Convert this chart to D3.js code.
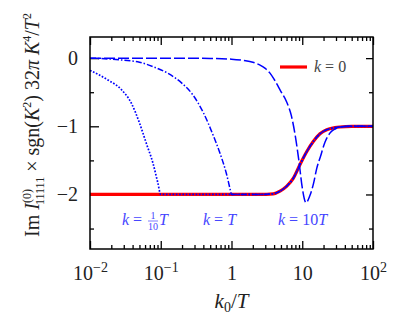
<!DOCTYPE html>
<html>
<head>
<meta charset="utf-8">
<script src="https://cdn.jsdelivr.net/npm/d3@7"></script>
<style>
  html, body { margin: 0; padding: 0; background: #fff; }
  svg { display: block; font-family: "Liberation Serif", "DejaVu Serif", serif; }
  .axis path { display: none; }
  .axis line { stroke: #000; stroke-width: 1.3; }
  .tick-label { font-size: 20px; fill: #222; font-family: "Liberation Serif", serif; }
</style>
</head>
<body>
<div id="chart"></div>
<script>
// values
// k = 0 (red, solid)
const k0Zero = [0.01, 1, 2.5, 3.9, 4.85, 6, 7.5, 9.3, 11.6, 14.4, 17.8, 22.2, 29, 34, 50, 100];
const imZero = [-2, -2, -2, -1.99, -1.95, -1.88, -1.76, -1.56, -1.37, -1.22, -1.11, -1.05, -1.02, -1.01, -1.0, -1.0];

// k = T/10 (dotted) before it joins the k = 0 curve
const k0Tenth = [0.01, 0.0179, 0.0277, 0.0384, 0.05, 0.0625, 0.0776, 0.091, 0.1];
const imTenth = [-0.18, -0.32, -0.46, -0.66, -0.95, -1.25, -1.54, -1.83, -2.0];

// k = T (dash-dot) before it joins the k = 0 curve
const k0One = [0.01, 0.03, 0.05, 0.08, 0.12, 0.16, 0.2, 0.28, 0.4, 0.55, 0.69, 0.85, 0.96, 1];
const imOne = [0, -0.03, -0.06, -0.13, -0.21, -0.29, -0.37, -0.53, -0.8, -1.13, -1.4, -1.7, -1.93, -2];

// k = 10T (long dash)
const k0Ten = [0.01, 0.1, 0.5, 1, 1.5, 2, 2.5, 3, 3.5, 4, 5, 6, 7, 8, 9, 10, 11.3, 13, 14.5, 16, 18, 21, 25, 29, 35, 45, 100];
const imTen = [0, 0, -0.005, -0.015, -0.035, -0.06, -0.1, -0.15, -0.22, -0.31, -0.49, -0.64, -0.84, -1.15, -1.52, -1.9, -2.12, -2.0, -1.83, -1.62, -1.45, -1.23, -1.09, -1.04, -1.01, -1.0, -1.0];

const xTicks = [0.01, 0.1, 1, 10, 100];
const xTickBase = ['10', '10', '1', '10', '10'];
const xTickExp = ['\u22122', '\u22121', '', '', '2'];
const yTicks = [0, -1, -2];
const yTickLabels = ['0', '\u22121', '\u22122'];
const yMinorTicks = [-0.5, -1.5, -2.5];

const width = 393, height = 322;
const margin = { top: 37, right: 20, bottom: 73, left: 90 };
const innerW = width - margin.left - margin.right;
const innerH = height - margin.top - margin.bottom;

const svg = d3.select('#chart').append('svg')
  .attr('width', width)
  .attr('height', height);

const chart = svg.append('g')
  .attr('transform', 'translate(' + margin.left + ',' + margin.top + ')');

const x = d3.scaleLog()
  .domain([0.01, 100])
  .range([0, innerW]);

const y = d3.scaleLinear()
  .domain([-2.8, 0.31])
  .range([innerH, 0]);

// minor log ticks 2..9 per decade
const xMinor = [];
for (let e = -2; e < 2; e++) {
  for (let m = 2; m <= 9; m++) xMinor.push(m * Math.pow(10, e));
}

// bottom axis (ticks point inwards)
const gx = chart.append('g')
  .attr('class', 'axis')
  .attr('transform', 'translate(0,' + innerH + ')')
  .call(d3.axisBottom(x).tickValues(xTicks).tickSize(-8).tickPadding(17).tickFormat(() => ''))
  .attr('font-family', null)
  .attr('font-size', null);

gx.selectAll('.tick text')
  .attr('class', 'tick-label')
  .each(function(d, i) {
    const t = d3.select(this);
    t.append('tspan').text(xTickBase[i]);
    if (xTickExp[i]) {
      t.append('tspan')
        .attr('font-size', 14)
        .attr('dy', -8)
        .text(xTickExp[i]);
    }
  });

chart.append('g')
  .attr('class', 'axis')
  .attr('transform', 'translate(0,' + innerH + ')')
  .call(d3.axisBottom(x).tickValues(xMinor).tickSize(-4).tickFormat(() => ''));

// top axis
chart.append('g')
  .attr('class', 'axis')
  .call(d3.axisTop(x).tickValues(xTicks).tickSize(-8).tickFormat(() => ''));
chart.append('g')
  .attr('class', 'axis')
  .call(d3.axisTop(x).tickValues(xMinor).tickSize(-4).tickFormat(() => ''));

// left axis
const gy = chart.append('g')
  .attr('class', 'axis')
  .call(d3.axisLeft(y).tickValues(yTicks).tickSize(-9).tickPadding(12).tickFormat((d, i) => yTickLabels[i]))
  .attr('font-family', null)
  .attr('font-size', null);
gy.selectAll('.tick text')
  .attr('class', 'tick-label');
chart.append('g')
  .attr('class', 'axis')
  .call(d3.axisLeft(y).tickValues(yMinorTicks).tickSize(-4).tickFormat(() => ''));

// right axis
chart.append('g')
  .attr('class', 'axis')
  .attr('transform', 'translate(' + innerW + ',0)')
  .call(d3.axisRight(y).tickValues(yTicks).tickSize(-7).tickFormat(() => ''));
chart.append('g')
  .attr('class', 'axis')
  .attr('transform', 'translate(' + innerW + ',0)')
  .call(d3.axisRight(y).tickValues(yMinorTicks).tickSize(-4).tickFormat(() => ''));

// curves
const zip = (a, b) => a.map((v, i) => [v, b[i]]);
const zero = zip(k0Zero, imZero);
const tenth = zip(k0Tenth, imTenth).concat(zero.filter(d => d[0] > 0.1));
const one = zip(k0One, imOne).concat(zero.filter(d => d[0] > 1));
const ten = zip(k0Ten, imTen);

const line = d3.line()
  .x(d => x(d[0]))
  .y(d => y(d[1]))
  .curve(d3.curveMonotoneX);

const series = [
  { pts: zero, color: '#ff0000', w: 3.2, dash: null },
  { pts: ten, color: '#0000ff', w: 1.5, dash: '11,3' },
  { pts: one, color: '#0000ff', w: 1.5, dash: '6,2,1.5,2' },
  { pts: tenth, color: '#0000ff', w: 1.7, dash: '1.7,1.6' }
];

chart.selectAll('.curve')
  .data(series)
  .enter()
  .append('path')
  .attr('class', 'curve')
  .attr('fill', 'none')
  .attr('stroke', d => d.color)
  .attr('stroke-width', d => d.w)
  .attr('stroke-dasharray', d => d.dash)
  .attr('d', d => line(d.pts));

// frame
chart.append('rect')
  .attr('width', innerW)
  .attr('height', innerH)
  .attr('fill', 'none')
  .attr('stroke', '#000')
  .attr('stroke-width', 1.5);

// legend
const legend = chart.append('g')
  .attr('transform', 'translate(' + (innerW - 93) + ',30)');
legend.append('line')
  .attr('x1', 0).attr('x2', 27)
  .attr('stroke', '#ff0000')
  .attr('stroke-width', 3.2);
const lt = legend.append('text')
  .attr('x', 34).attr('y', 5)
  .attr('font-size', 16)
  .attr('fill', '#444');
lt.append('tspan').attr('font-style', 'italic').text('k');
lt.append('tspan').text(' = 0');

// curve annotations
const blueText = '#4646ff';
function annot(x0) {
  const t = chart.append('text')
    .attr('x', x0 - margin.left)
    .attr('y', 225 - margin.top)
    .attr('font-size', 16)
    .attr('fill', blueText);
  t.append('tspan').attr('font-style', 'italic').text('k');
  t.append('tspan').text(' = ');
  return t;
}
annot(122);
const fracX = 153 - margin.left;
chart.append('text')
  .attr('x', fracX).attr('y', 219 - margin.top)
  .attr('font-size', 10).attr('fill', blueText)
  .attr('text-anchor', 'middle').text('1');
chart.append('line')
  .attr('x1', fracX - 5).attr('x2', fracX + 5)
  .attr('y1', 221 - margin.top).attr('y2', 221 - margin.top)
  .attr('stroke', blueText).attr('stroke-width', 0.7);
chart.append('text')
  .attr('x', fracX).attr('y', 230 - margin.top)
  .attr('font-size', 10).attr('fill', blueText)
  .attr('text-anchor', 'middle').text('10');
chart.append('text')
  .attr('x', 159 - margin.left).attr('y', 225 - margin.top)
  .attr('font-size', 16).attr('fill', blueText)
  .attr('font-style', 'italic').text('T');

const a2 = annot(203);
a2.append('tspan').attr('font-style', 'italic').text('T');
const a3 = annot(278);
a3.append('tspan').text('10');
a3.append('tspan').attr('font-style', 'italic').text('T');

// x axis title
const xt = svg.append('text')
  .attr('x', margin.left + innerW / 2)
  .attr('y', 308)
  .attr('text-anchor', 'middle')
  .attr('font-size', 21)
  .attr('fill', '#222');
xt.append('tspan').attr('font-style', 'italic').text('k');
xt.append('tspan').attr('font-size', 14).attr('dy', 4).text('0');
xt.append('tspan').attr('dy', -4).text('/');
xt.append('tspan').attr('font-style', 'italic').text('T');

// y axis title
const yt = svg.append('text')
  .attr('transform', 'translate(39,125) rotate(-90)')
  .attr('text-anchor', 'middle')
  .attr('font-size', 20)
  .attr('fill', '#222');
yt.append('tspan').text('Im ');
yt.append('tspan').attr('font-style', 'italic').text('I');
yt.append('tspan').attr('font-size', 12).attr('dy', -8).text('(0)');
yt.append('tspan').attr('font-size', 12).attr('dx', -16).attr('dy', 13).text('11111');
yt.append('tspan').attr('dy', -5).text(' \u00d7 sgn(');
yt.append('tspan').attr('font-style', 'italic').text('K');
yt.append('tspan').attr('font-size', 12).attr('dy', -8).text('2');
yt.append('tspan').attr('dy', 8).text(') 32');
yt.append('tspan').attr('font-style', 'italic').text('\u03c0 K');
yt.append('tspan').attr('font-size', 12).attr('dy', -8).text('4');
yt.append('tspan').attr('dy', 8).text('/');
yt.append('tspan').attr('font-style', 'italic').text('T');
yt.append('tspan').attr('font-size', 12).attr('dy', -8).text('2');
</script>
</body>
</html>
